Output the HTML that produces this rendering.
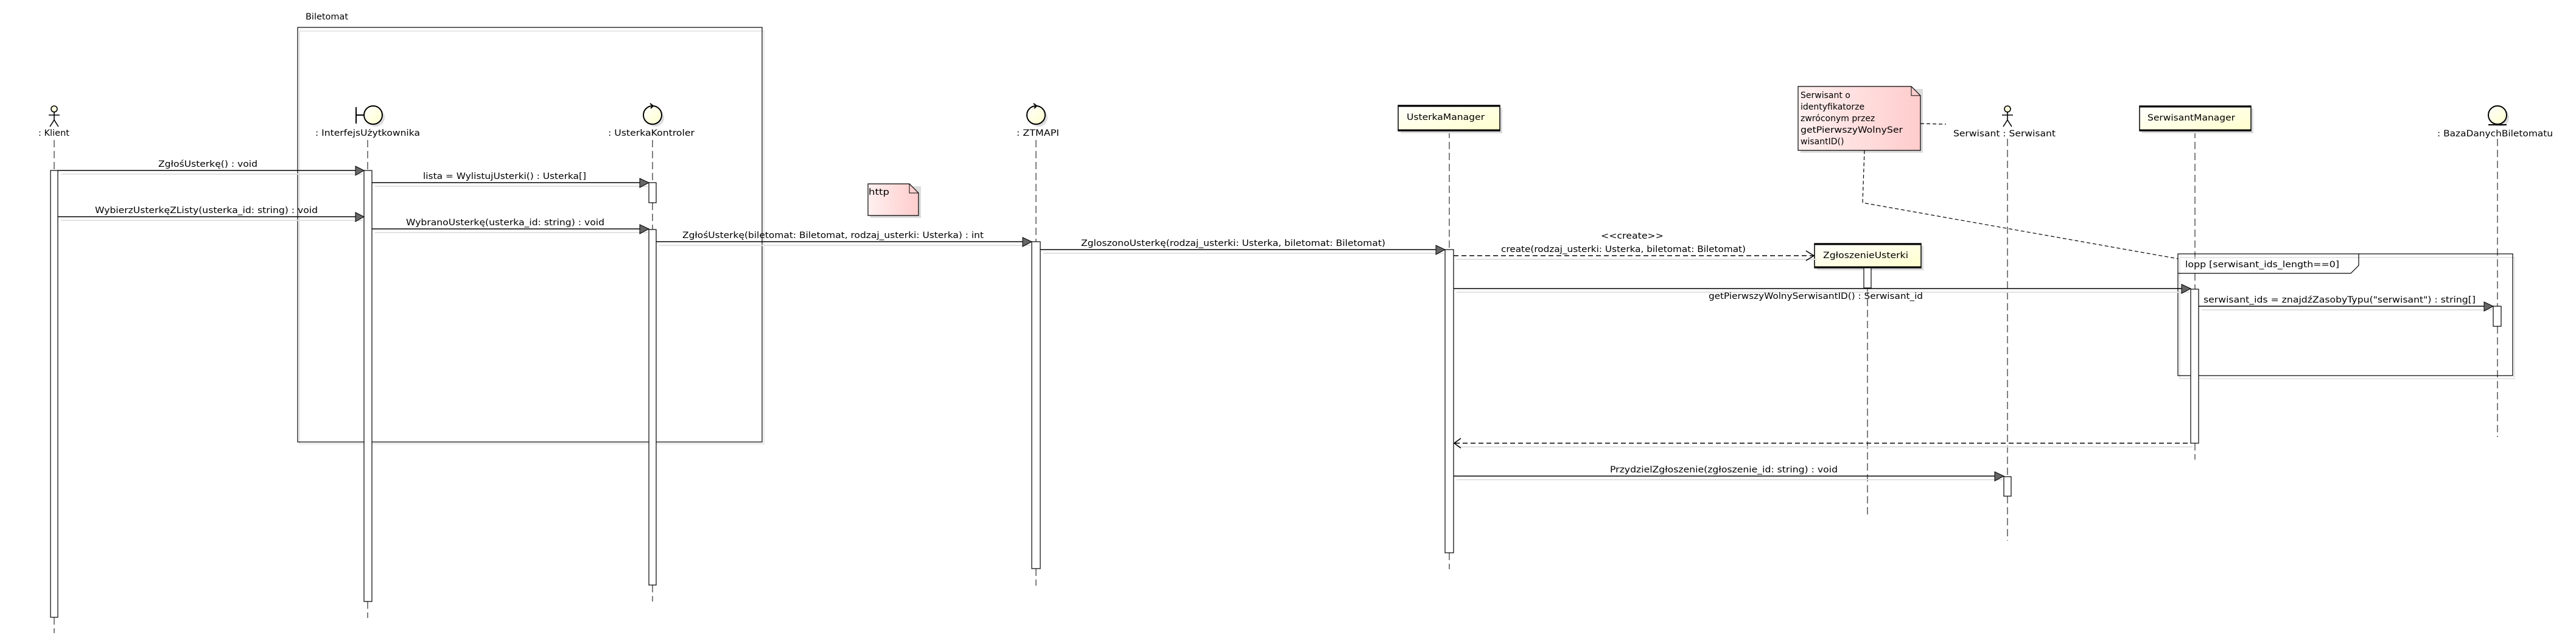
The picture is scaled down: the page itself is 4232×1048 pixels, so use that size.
<!DOCTYPE html>
<html><head><meta charset="utf-8"><style>
html,body{margin:0;padding:0;background:#fff;}
svg{display:block;}
text{font-family:"DejaVu Sans","Liberation Sans",sans-serif;font-size:14px;fill:#000;}
</style></head><body>
<svg width="4232" height="1048" viewBox="0 0 4232 1048" xmlns="http://www.w3.org/2000/svg">
<defs>
<linearGradient id="yel" x1="0" y1="0" x2="1" y2="1"><stop offset="0" stop-color="#ffffff"/><stop offset="1" stop-color="#ffffcc"/></linearGradient>
<linearGradient id="pink" x1="0" y1="0" x2="1" y2="0"><stop offset="0" stop-color="#fff0f0"/><stop offset="1" stop-color="#ffcccc"/></linearGradient>
</defs>

<!-- Biletomat frame -->
<text x="502" y="32" textLength="70" lengthAdjust="spacingAndGlyphs">Biletomat</text>
<rect x="492" y="51" width="763" height="678" fill="none" stroke="#e0e0e0" stroke-width="1.5"/>
<rect x="489" y="45" width="763" height="681" fill="none" stroke="#000" stroke-width="1.2"/>

<!-- Lifelines (dashed) -->
<g stroke="#000" stroke-width="1" stroke-dasharray="12,6" fill="none">
<line x1="89" y1="230" x2="89" y2="280"/><line x1="89" y1="1014" x2="89" y2="1040"/>
<line x1="604" y1="230" x2="604" y2="280"/><line x1="604" y1="988" x2="604" y2="1015"/>
<line x1="1072" y1="230" x2="1072" y2="300"/><line x1="1072" y1="333" x2="1072" y2="377"/><line x1="1072" y1="961" x2="1072" y2="988"/>
<line x1="1702" y1="230" x2="1702" y2="397"/><line x1="1702" y1="934" x2="1702" y2="962"/>
<line x1="2381" y1="215" x2="2381" y2="410"/><line x1="2381" y1="908" x2="2381" y2="935"/>
<line x1="3068" y1="473" x2="3068" y2="847"/>
<line x1="3298" y1="228" x2="3298" y2="783"/><line x1="3298" y1="815" x2="3298" y2="888"/>
<line x1="3606" y1="215" x2="3606" y2="475"/><line x1="3606" y1="728" x2="3606" y2="755"/>
<line x1="4103" y1="228" x2="4103" y2="503"/><line x1="4103" y1="536" x2="4103" y2="718"/>
</g>

<!-- Actors -->
<g stroke="#000" stroke-width="1.6" fill="#ffffdd">
<circle cx="89" cy="179" r="5"/>
<line x1="89" y1="184" x2="89" y2="197"/><line x1="80" y1="189" x2="98" y2="189"/>
<line x1="89" y1="197" x2="82" y2="208"/><line x1="89" y1="197" x2="96" y2="208"/>
<circle cx="3298" cy="179" r="5"/>
<line x1="3298" y1="184" x2="3298" y2="197"/><line x1="3289" y1="189" x2="3307" y2="189"/>
<line x1="3298" y1="197" x2="3291" y2="208"/><line x1="3298" y1="197" x2="3305" y2="208"/>
</g>
<text x="63" y="223" textLength="51" lengthAdjust="spacingAndGlyphs">: Klient</text>
<text x="3209" y="224" textLength="168" lengthAdjust="spacingAndGlyphs">Serwisant : Serwisant</text>

<!-- Boundary -->
<circle cx="617" cy="193" r="15" fill="#dcdcdc"/>
<circle cx="613" cy="189" r="15" fill="url(#yel)" stroke="#000" stroke-width="2"/>
<line x1="585" y1="189" x2="598" y2="189" stroke="#000" stroke-width="2"/>
<line x1="585" y1="176" x2="585" y2="203" stroke="#000" stroke-width="2"/>
<text x="518" y="223" textLength="172" lengthAdjust="spacingAndGlyphs">: InterfejsUżytkownika</text>

<!-- Control UsterkaKontroler -->
<circle cx="1076" cy="193" r="15" fill="#dcdcdc"/>
<circle cx="1072" cy="189" r="15" fill="url(#yel)" stroke="#000" stroke-width="2"/>
<path d="M1068 170 L1073 174 L1069 178" fill="none" stroke="#000" stroke-width="2"/>
<text x="999" y="223" textLength="142" lengthAdjust="spacingAndGlyphs">: UsterkaKontroler</text>

<!-- Control ZTMAPI -->
<circle cx="1706" cy="193" r="15" fill="#dcdcdc"/>
<circle cx="1702" cy="189" r="15" fill="url(#yel)" stroke="#000" stroke-width="2"/>
<path d="M1698 170 L1703 174 L1699 178" fill="none" stroke="#000" stroke-width="2"/>
<text x="1670" y="223" textLength="70" lengthAdjust="spacingAndGlyphs">: ZTMAPI</text>

<!-- Entity Baza -->
<circle cx="4107" cy="193" r="15" fill="#dcdcdc"/>
<circle cx="4103" cy="189" r="15" fill="url(#yel)" stroke="#000" stroke-width="2"/>
<line x1="4088" y1="205" x2="4118" y2="205" stroke="#000" stroke-width="2"/>
<text x="4004" y="224" textLength="190" lengthAdjust="spacingAndGlyphs">: BazaDanychBiletomatu</text>

<!-- Class boxes -->
<rect x="2301" y="177" width="167" height="42" fill="#dcdcdc"/>
<rect x="2297" y="173" width="167" height="42" fill="url(#yel)" stroke="#000" stroke-width="1.5"/>
<line x1="2297" y1="174" x2="2464" y2="174" stroke="#000" stroke-width="3"/>
<line x1="2297" y1="214" x2="2464" y2="214" stroke="#000" stroke-width="3"/>
<text x="2311" y="197" textLength="128" lengthAdjust="spacingAndGlyphs">UsterkaManager</text>

<rect x="3519" y="178" width="183" height="41" fill="#dcdcdc"/>
<rect x="3515" y="174" width="183" height="41" fill="url(#yel)" stroke="#000" stroke-width="1.5"/>
<line x1="3515" y1="175" x2="3698" y2="175" stroke="#000" stroke-width="3"/>
<line x1="3515" y1="214" x2="3698" y2="214" stroke="#000" stroke-width="3"/>
<text x="3528" y="198" textLength="144" lengthAdjust="spacingAndGlyphs">SerwisantManager</text>

<rect x="2985" y="404" width="175" height="40" fill="#dcdcdc"/>
<rect x="2981" y="400" width="175" height="40" fill="url(#yel)" stroke="#000" stroke-width="1.5"/>
<line x1="2981" y1="401" x2="3156" y2="401" stroke="#000" stroke-width="3"/>
<line x1="2981" y1="439" x2="3156" y2="439" stroke="#000" stroke-width="3"/>
<text x="2995" y="424" textLength="140" lengthAdjust="spacingAndGlyphs">ZgłoszenieUsterki</text>

<!-- Notes -->
<rect x="1430" y="306" width="83" height="52" fill="#dcdcdc"/>
<path d="M1426 302 H1494 L1509 317 V354 H1426 Z" fill="url(#pink)" stroke="#000" stroke-width="1.2"/>
<path d="M1494 302 V317 H1509" fill="none" stroke="#000" stroke-width="1"/>
<text x="1427" y="320" textLength="34" lengthAdjust="spacingAndGlyphs">http</text>

<rect x="2958" y="146" width="201" height="105" fill="#dcdcdc"/>
<path d="M2954 142 H3140 L3155 157 V247 H2954 Z" fill="url(#pink)" stroke="#000" stroke-width="1.2"/>
<path d="M3140 142 V157 H3155" fill="none" stroke="#000" stroke-width="1"/>
<text x="2958" y="161">Serwisant o</text>
<text x="2958" y="180">identyfikatorze</text>
<text x="2958" y="199">zwróconym przez</text>
<text x="2958" y="218" textLength="168" lengthAdjust="spacingAndGlyphs">getPierwszyWolnySer</text>
<text x="2958" y="237">wisantID()</text>
<g stroke="#000" stroke-width="1.2" stroke-dasharray="6,4" fill="none">
<line x1="3155" y1="203" x2="3197" y2="204"/>
<polyline points="3063,247 3060,333 3578,425"/>
</g>

<!-- Loop frame -->
<rect x="3581" y="423" width="550" height="199" fill="none" stroke="#e0e0e0" stroke-width="1.5"/>
<rect x="3578" y="417" width="550" height="200" fill="none" stroke="#000" stroke-width="1.2"/>
<path d="M3578 449 H3862 L3875 436 V417" fill="none" stroke="#000" stroke-width="1.2"/>
<text x="3590" y="439" textLength="253" lengthAdjust="spacingAndGlyphs">lopp  [serwisant_ids_length==0]</text>

<!-- Activations -->
<g fill="#fff" stroke="#000" stroke-width="1.2">
<rect x="83" y="280" width="12" height="734"/>
<rect x="598" y="280" width="13" height="708"/>
<rect x="1066" y="300" width="12" height="33"/>
<rect x="1066" y="377" width="12" height="584"/>
<rect x="1695" y="397" width="14" height="537"/>
<rect x="2374" y="410" width="14" height="498"/>
<rect x="3062" y="440" width="12" height="33"/>
<rect x="3599" y="475" width="13" height="253"/>
<rect x="4096" y="503" width="13" height="33"/>
<rect x="3292" y="783" width="12" height="32"/>
</g>

<!-- Message shadows -->
<g stroke="#e2e2e2" stroke-width="2">
<line x1="100" y1="286" x2="596" y2="286"/>
<line x1="616" y1="306" x2="1064" y2="306"/>
<line x1="100" y1="362" x2="596" y2="362"/>
<line x1="616" y1="382" x2="1064" y2="382"/>
<line x1="1083" y1="403" x2="1693" y2="403"/>
<line x1="1714" y1="416" x2="2372" y2="416"/>
<line x1="2393" y1="426" x2="2985" y2="426"/>
<line x1="2393" y1="480" x2="3597" y2="480"/>
<line x1="3617" y1="509" x2="4094" y2="509"/>
<line x1="2393" y1="734" x2="3602" y2="734"/>
<line x1="2393" y1="788" x2="3290" y2="788"/>
</g>

<!-- Messages -->
<g stroke="#000" stroke-width="1.6" fill="none">
<line x1="95" y1="280" x2="592" y2="280"/>
<line x1="611" y1="300" x2="1060" y2="300"/>
<line x1="95" y1="356" x2="592" y2="356"/>
<line x1="611" y1="376" x2="1060" y2="376"/>
<line x1="1078" y1="397" x2="1689" y2="397"/>
<line x1="1709" y1="410" x2="2368" y2="410"/>
<line x1="2388" y1="474" x2="3593" y2="474"/>
<line x1="3612" y1="503" x2="4090" y2="503"/>
<line x1="2388" y1="782" x2="3286" y2="782"/>
<line x1="2388" y1="420" x2="2979" y2="420" stroke-dasharray="8,5"/>
<line x1="2390" y1="728" x2="3599" y2="728" stroke-dasharray="8,5"/>
<polyline points="2967,412 2980,420 2967,428"/>
<polyline points="2400,720 2389,728 2400,736"/>
</g>
<g fill="#666" stroke="#000" stroke-width="1">
<path d="M584 273 L598 280 L584 288 Z"/>
<path d="M1051 293 L1066 300 L1051 308 Z"/>
<path d="M584 349 L598 356 L584 364 Z"/>
<path d="M1051 369 L1066 376 L1051 384 Z"/>
<path d="M1680 390 L1695 397 L1680 405 Z"/>
<path d="M2359 403 L2374 410 L2359 418 Z"/>
<path d="M3584 467 L3599 474 L3584 482 Z"/>
<path d="M4081 496 L4096 503 L4081 511 Z"/>
<path d="M3277 775 L3292 782 L3277 790 Z"/>
</g>

<!-- Message labels -->
<text x="260" y="274" textLength="163" lengthAdjust="spacingAndGlyphs">ZgłośUsterkę() : void</text>
<text x="695" y="294" textLength="268" lengthAdjust="spacingAndGlyphs">lista = WylistujUsterki() : Usterka[]</text>
<text x="156" y="350" textLength="366" lengthAdjust="spacingAndGlyphs">WybierzUsterkęZListy(usterka_id: string) : void</text>
<text x="667" y="370" textLength="326" lengthAdjust="spacingAndGlyphs">WybranoUsterkę(usterka_id: string) : void</text>
<text x="1121" y="391" textLength="495" lengthAdjust="spacingAndGlyphs">ZgłośUsterkę(biletomat: Biletomat, rodzaj_usterki: Usterka) : int</text>
<text x="1776" y="404" textLength="500" lengthAdjust="spacingAndGlyphs">ZgloszonoUsterkę(rodzaj_usterki: Usterka, biletomat: Biletomat)</text>
<text x="2630" y="392" textLength="103" lengthAdjust="spacingAndGlyphs">&lt;&lt;create&gt;&gt;</text>
<text x="2466" y="414" textLength="402" lengthAdjust="spacingAndGlyphs">create(rodzaj_usterki: Usterka, biletomat: Biletomat)</text>
<text x="2807" y="491" textLength="352" lengthAdjust="spacingAndGlyphs">getPierwszyWolnySerwisantID() : Serwisant_id</text>
<text x="3620" y="497" textLength="447" lengthAdjust="spacingAndGlyphs">serwisant_ids = znajdźZasobyTypu("serwisant") : string[]</text>
<text x="2645" y="776" textLength="374" lengthAdjust="spacingAndGlyphs">PrzydzielZgłoszenie(zgłoszenie_id: string) : void</text>
</svg>
</body></html>
